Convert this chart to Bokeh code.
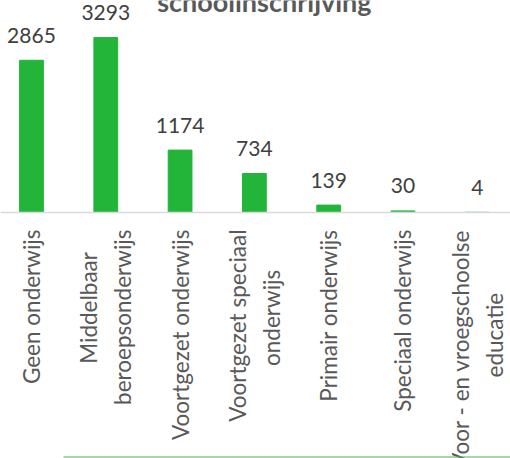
from bokeh.plotting import figure
from bokeh.models import ColumnDataSource, Range1d, FixedTicker, BoxAnnotation
from bokeh.core.properties import value
from bokeh.embed import file_html
from bokeh.resources import INLINE

categories = [
    "Geen onderwijs",
    "Middelbaar\nberoepsonderwijs",
    "Voortgezet onderwijs",
    "Voortgezet speciaal\nonderwijs",
    "Primair onderwijs",
    "Speciaal onderwijs",
    "Voor - en vroegschoolse\neducatie",
]
counts = [2865, 3293, 1174, 734, 139, 30, 4]
title_text = "schoolinschrijving"

FONT = "Lato"
NB = "\u00a0"
ZW = "\u200b"
W, H = 510, 458
AXIS_Y = 212           # pixel row of the category axis
Y_TOP = 3990           # value at the top edge of the picture
y_per_px = Y_TOP / AXIS_Y

# trailing no-break spaces centre the shorter line of a two-line label on the longer one
pads = [0, 4, 0, 7, 0, 0, 11]
tick_text = []
for c, n in zip(categories, pads):
    lines = c.split("\n")
    if len(lines) == 2:
        short = 0 if len(lines[0]) < len(lines[1]) else 1
        lines[short] = lines[short] + NB * n + ZW
    tick_text.append("\n".join(lines))

positions = list(range(len(categories)))
src = ColumnDataSource(dict(x=positions, top=counts, label=[str(c) for c in counts]))

p = figure(width=W, height=H, output_backend="svg", toolbar_location=None,
           x_range=Range1d(-0.417, 6.447),
           y_range=Range1d(-(H - AXIS_Y) * y_per_px, Y_TOP),
           min_border_left=0, min_border_right=0, min_border_top=0, min_border_bottom=0)
p.outline_line_color = None
p.grid.visible = False
p.yaxis.visible = False

p.vbar(x="x", top="top", width=0.32, bottom=0, source=src, color="#22B53A")
p.text(x="x", y="top", text="label", source=src, text_align="center",
       text_baseline="middle", y_offset=-25, text_font=value(FONT),
       text_font_size="21px", text_color="#404040")

# partially visible title (its first line lies above the picture)
p.text(x=[3], y=[Y_TOP - 0.5 * y_per_px], text=[title_text], x_offset=10,
       text_align="center", text_baseline="middle", text_font=value(FONT),
       text_font_size="27px", text_font_style="bold", text_color="#595959")

ax = p.xaxis[0]
ax.fixed_location = 0
ax.ticker = FixedTicker(ticks=positions)
ax.major_label_overrides = {i: c for i, c in zip(positions, tick_text)}
ax.major_label_orientation = 1.5707963
ax.major_label_text_font = FONT
ax.major_label_text_font_size = "22.5px"
ax.major_label_text_line_height = 1.25
ax.major_label_text_color = "#595959"
ax.major_label_standoff = 11
ax.major_tick_line_color = None
ax.minor_tick_line_color = None
ax.axis_line_color = "#D9D9D9"
ax.axis_line_width = 1.5

# thin green rule near the bottom edge (screen y counts up from the bottom)
p.add_layout(BoxAnnotation(left=63, right=W, top=2, bottom=1,
                           left_units="screen", right_units="screen",
                           top_units="screen", bottom_units="screen",
                           fill_color="#4CAF50", fill_alpha=1, line_color=None))

html = file_html(p, INLINE)
html = html.replace("<head>", "<head><style>html,body{margin:0;padding:0;overflow:hidden;}</style>", 1)
open("out.html", "w").write(html)
